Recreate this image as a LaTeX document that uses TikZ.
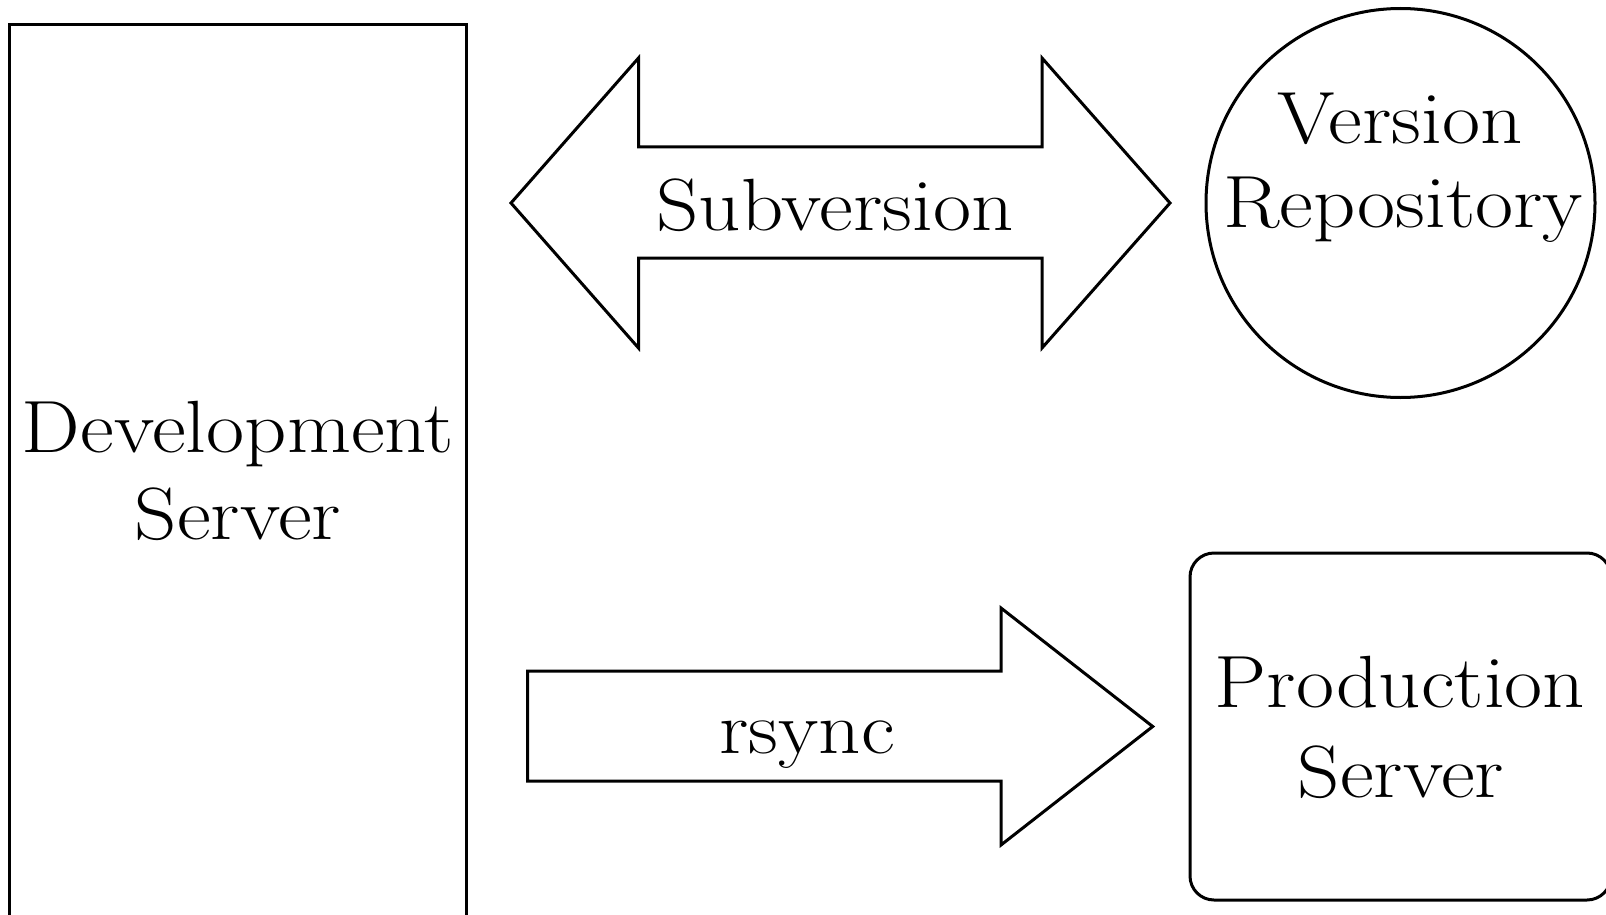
\documentclass[tikz,border=0pt]{standalone}
\usepackage{fontspec}
\setmainfont{Latin Modern Roman}[FakeStretch=1.12]
\begin{document}
\begin{tikzpicture}[x=1pt,y=-1pt,
  outline/.style={draw=black,line width=3pt,fill=white},
  blockarrow/.style={draw=black,line width=3pt,line join=miter,fill=white},
  lbl/.style={anchor=base,inner sep=0pt,font=\fontsize{74}{87}\selectfont}]
\useasboundingbox (0,0) rectangle (1606,915);
\clip (0,0) rectangle (1606,915);
% shapes
\node[outline,rectangle,inner sep=0pt,minimum width=456.5pt,minimum height=930pt] (dev) at (238.2,490) {};
\node[outline,circle,inner sep=0pt,minimum size=389pt] (repo) at (1400.5,203) {};
\node[outline,rectangle,rounded corners=24pt,inner sep=0pt,minimum width=421pt,minimum height=347pt] (prod) at (1400.5,726.5) {};
% block arrows
\draw[blockarrow] (511,203) -- (638.5,58) -- (638.5,147) -- (1042,147) -- (1042,58)
  -- (1170,203) -- (1042,348) -- (1042,258) -- (638.5,258) -- (638.5,348) -- cycle;
\draw[blockarrow] (527.7,671) -- (1001,671) -- (1001,608) -- (1152.7,726.5)
  -- (1001,845) -- (1001,781) -- (527.7,781) -- cycle;
% labels
\node[lbl] (devA) at (238,452) {Development};
\node[lbl] (devB) at (238,539) {Server};
\node[lbl] (svn) at (835,230) {Subversion};
\node[lbl] (repoA) at (1400,143) {Version};
\node[lbl] (repoB) at (1403,227) {Repository};
\node[lbl] (rsync) at (807,753) {rsync};
\node[lbl] (prodA) at (1400,707) {Production};
\node[lbl] (prodB) at (1401,797) {Server};
\end{tikzpicture}
\end{document}
